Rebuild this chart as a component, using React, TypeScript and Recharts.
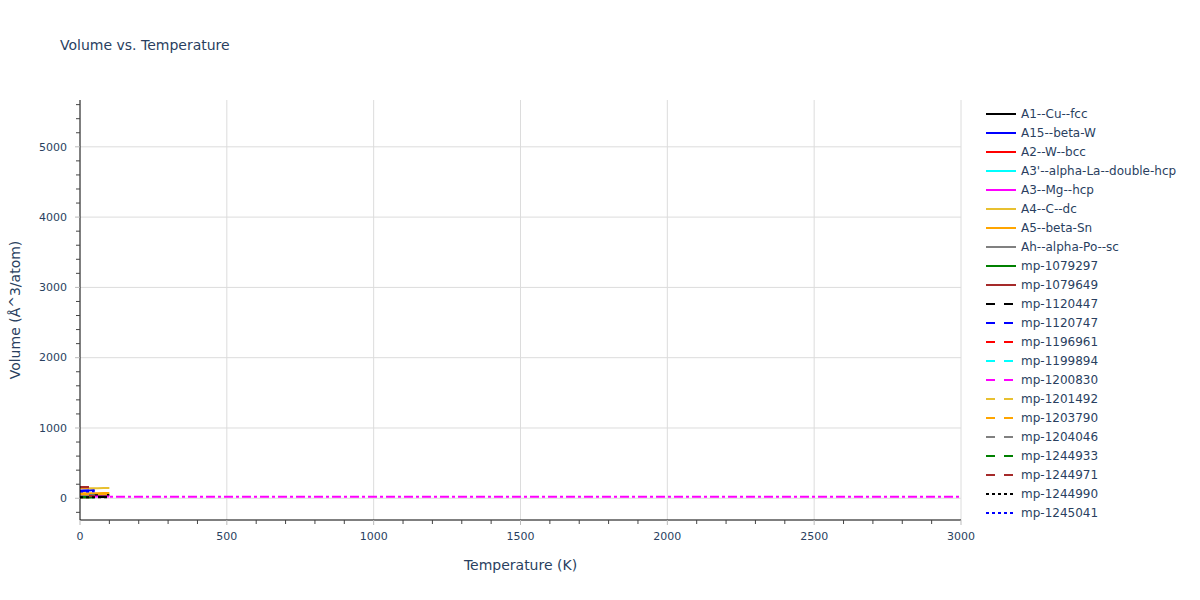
import React from 'react';
import { LineChart, Line, XAxis, YAxis, ReferenceLine } from 'recharts';

// temperature grids (K)
const tShort = [0, 10, 20, 30, 40, 50];
const tLong = [0, 20, 40, 60, 80, 100];
const tFull = [0, 500, 1000, 1500, 2000, 2500, 3000];

// volumes (Å^3/atom)
const a1CuFcc = [45, 45, 46, 46, 47, 48];
const a15BetaW = [100, 103, 107, 111, 115, 119];
const a2WBcc = [16, 16, 16, 16, 17, 17];
const a3pAlphaLa = [37, 37, 37, 38, 38, 38];
const a3MgHcp = [23, 23, 23, 24, 24, 24];
const a4CDc = [143, 143, 144, 144, 145, 145];
const a5BetaSn = [72, 72, 73, 73, 74, 74];
const ahAlphaPo = [38, 38, 38, 39, 39, 39];
const mp1079297 = [12, 12, 12, 12, 12, 12];
const mp1079649 = [30, 30, 30, 31, 31, 31];
const mp1120447 = [18, 18, 18, 18, 19, 19];
const mp1120747 = [108, 109, 110, 111, 112, 113];
const mp1196961 = [157, 157, 158, 158, 159, 159];
const mp1199894 = [20, 20, 20, 20, 20, 21];
const mp1200830 = [22, 22, 22, 22, 22, 22];
const mp1201492 = [55, 55, 55, 56, 56, 56];
const mp1203790 = [62, 62, 62, 63, 63, 63];
const mp1204046 = [25, 25, 25, 25, 26, 26];
const mp1244933 = [18, 18, 18, 18, 18, 18];
const mp1244971 = [160, 160, 160, 161, 161, 161];
const mp1244990 = [14, 14, 14, 14, 14, 14];
const mp1245041 = [95, 96, 97, 98, 99, 100];
const extraDashDot = [20, 20, 20, 20, 20, 20, 20];

const xTicks = Array.from({ length: 31 }, (_, i) => i * 100);
const yTicks = Array.from({ length: 30 }, (_, i) => -200 + i * 200);
const xGrid = [500, 1000, 1500, 2000, 2500, 3000];
const yGrid = [0, 1000, 2000, 3000, 4000, 5000];

const DASH = '9 9';
const DOT = '3 3';
const DASHDOT = '9 3 3 3';

const series = [
  { name: 'A1--Cu--fcc', t: tLong, v: a1CuFcc, color: '#000000', dash: undefined },
  { name: 'A15--beta-W', t: tShort, v: a15BetaW, color: '#0000ff', dash: undefined },
  { name: 'A2--W--bcc', t: tShort, v: a2WBcc, color: '#ff0000', dash: undefined },
  { name: "A3'--alpha-La--double-hcp", t: tShort, v: a3pAlphaLa, color: '#00ffff', dash: undefined },
  { name: 'A3--Mg--hcp', t: tLong, v: a3MgHcp, color: '#ff00ff', dash: undefined },
  { name: 'A4--C--dc', t: tLong, v: a4CDc, color: '#e8c030', dash: undefined },
  { name: 'A5--beta-Sn', t: tLong, v: a5BetaSn, color: '#ffa500', dash: undefined },
  { name: 'Ah--alpha-Po--sc', t: tShort, v: ahAlphaPo, color: '#808080', dash: undefined },
  { name: 'mp-1079297', t: tShort, v: mp1079297, color: '#008000', dash: undefined },
  { name: 'mp-1079649', t: tShort, v: mp1079649, color: '#a52a2a', dash: undefined },
  { name: 'mp-1120447', t: tLong, v: mp1120447, color: '#000000', dash: DASH },
  { name: 'mp-1120747', t: tShort, v: mp1120747, color: '#0000ff', dash: DASH },
  { name: 'mp-1196961', t: tShort, v: mp1196961, color: '#ff0000', dash: DASH },
  { name: 'mp-1199894', t: tShort, v: mp1199894, color: '#00ffff', dash: DASH },
  { name: 'mp-1200830', t: tShort, v: mp1200830, color: '#ff00ff', dash: DASH },
  { name: 'mp-1201492', t: tLong, v: mp1201492, color: '#e8c030', dash: DASH },
  { name: 'mp-1203790', t: tLong, v: mp1203790, color: '#ffa500', dash: DASH },
  { name: 'mp-1204046', t: tShort, v: mp1204046, color: '#808080', dash: DASH },
  { name: 'mp-1244933', t: tShort, v: mp1244933, color: '#008000', dash: DASH },
  { name: 'mp-1244971', t: tShort, v: mp1244971, color: '#a52a2a', dash: DASH },
  { name: 'mp-1244990', t: tLong, v: mp1244990, color: '#000000', dash: DOT },
  { name: 'mp-1245041', t: tShort, v: mp1245041, color: '#0000ff', dash: DOT },
];

const FONT = '"DejaVu Sans", Verdana, sans-serif';
const TEXT = '#2a3f5f';

const toPoints = (t: number[], v: number[]) => t.map((x, i) => ({ t: x, v: v[i] }));

const XTick = (props: any) => {
  const { x, y, payload } = props;
  const major = payload.value % 500 === 0;
  return (
    <g>
      <line x1={x} x2={x} y1={y} y2={y + (major ? 5 : 4)} stroke={major ? '#bbbbbb' : '#444444'} />
      {major && (
        <text x={x} y={y + 19.5} textAnchor="middle" fill={TEXT} fontSize={11} fontFamily={FONT}>
          {payload.value}
        </text>
      )}
    </g>
  );
};

const YTick = (props: any) => {
  const { x, y, payload } = props;
  const major = payload.value % 1000 === 0;
  return (
    <g>
      <line x1={x - (major ? 5 : 4)} x2={x} y1={y} y2={y} stroke={major ? '#bbbbbb' : '#444444'} />
      {major && (
        <text x={x - 13} y={y + 3.8} textAnchor="end" fill={TEXT} fontSize={11} fontFamily={FONT}>
          {payload.value}
        </text>
      )}
    </g>
  );
};

export default function App() {
  return (
    <div style={{ position: 'absolute', left: 0, top: 0, width: 1200, height: 600, background: '#fff', fontFamily: FONT }}>
      <LineChart width={1200} height={600} margin={{ top: 100, right: 239, bottom: 30, left: 0 }}>
        <XAxis
          dataKey="t"
          type="number"
          domain={[0, 3000]}
          ticks={xTicks}
          interval={0}
          allowDataOverflow
          height={50}
          tickSize={0}
          tickMargin={0}
          tick={<XTick />}
          axisLine={{ stroke: '#000000' }}
          label={() => (
            <text x={520.5} y={570} textAnchor="middle" fill={TEXT} fontSize={14} fontFamily={FONT}>
              Temperature (K)
            </text>
          )}
        />
        <YAxis
          type="number"
          domain={[-309, 5666]}
          ticks={yTicks}
          interval={0}
          allowDataOverflow
          width={80}
          tickSize={0}
          tickMargin={0}
          tick={<YTick />}
          axisLine={{ stroke: '#000000' }}
          label={() => (
            <text x={20} y={310} transform="rotate(-90 20 310)" textAnchor="middle" fill={TEXT} fontSize={14} fontFamily={FONT}>
              Volume (Å^3/atom)
            </text>
          )}
        />
        {yGrid.map((g) => (
          <ReferenceLine key={'y' + g} y={g} stroke="#dcdcdc" strokeWidth={1} />
        ))}
        {xGrid.map((g) => (
          <ReferenceLine key={'x' + g} x={g} stroke="#dcdcdc" strokeWidth={1} />
        ))}
        <Line
          data={toPoints(tFull, extraDashDot)}
          dataKey="v"
          stroke="#ff00ff"
          strokeWidth={2}
          strokeDasharray={DASHDOT}
          dot={false}
          isAnimationActive={false}
          legendType="none"
        />
        {series.map((s) => (
          <Line
            key={s.name}
            name={s.name}
            data={toPoints(s.t, s.v)}
            dataKey="v"
            stroke={s.color}
            strokeWidth={2}
            strokeDasharray={s.dash}
            dot={false}
            isAnimationActive={false}
          />
        ))}
      </LineChart>
      <svg width={1200} height={600} style={{ position: 'absolute', left: 0, top: 0, pointerEvents: 'none' }}>
        <text x={60} y={50} fill={TEXT} fontSize={14} fontFamily={FONT}>
          Volume vs. Temperature
        </text>
        {series.map((s, i) => {
          const y = 114 + i * 19;
          return (
            <g key={s.name}>
              <line x1={986} x2={1016} y1={y} y2={y} stroke={s.color} strokeWidth={2} strokeDasharray={s.dash} />
              <text x={1021} y={y + 4} fill={TEXT} fontSize={12} fontFamily={FONT}>
                {s.name}
              </text>
            </g>
          );
        })}
      </svg>
    </div>
  );
}
